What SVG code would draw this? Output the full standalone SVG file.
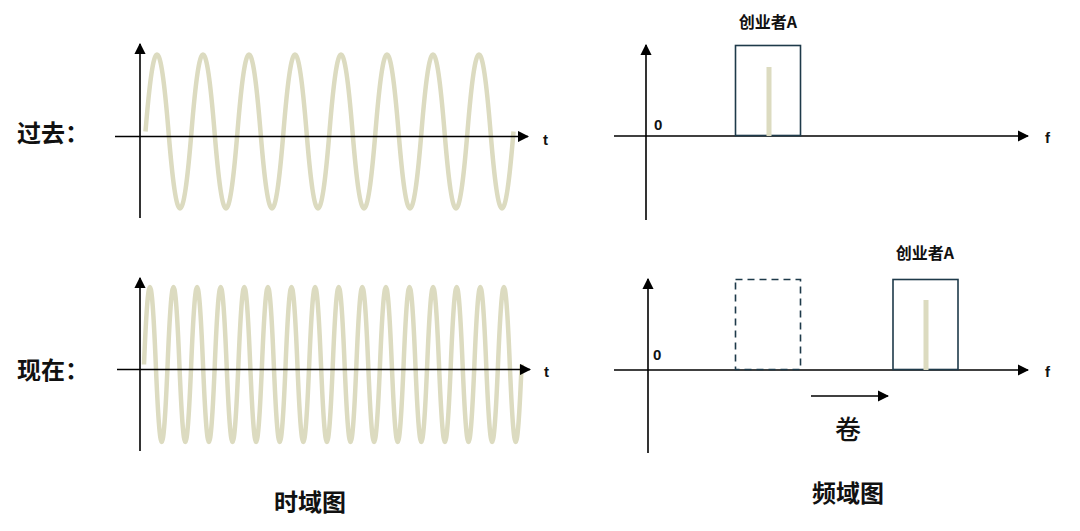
<svg xmlns="http://www.w3.org/2000/svg" width="1080" height="531" viewBox="0 0 1080 531">
<style>
.ax{stroke:#000;stroke-width:1.6;fill:none}
.w{stroke:#dcdbc0;stroke-width:4.5;fill:none}
.bx{stroke:#1e3a4a;stroke-width:1.6;fill:none}
.bar{fill:#dcdbc0}
text{font-family:"Noto Sans CJK SC","Liberation Sans",sans-serif;fill:#111}
.big{font-size:24px;font-weight:bold}
.lab{font-size:16px;font-weight:bold}
.ax-l{font-size:15px;font-family:"Liberation Sans",sans-serif;font-weight:bold}
</style>
<defs><marker id="ar" viewBox="0 0 10 10" refX="9" refY="5" markerWidth="7" markerHeight="7" orient="auto"><path d="M0,0 L10,5 L0,10 z" fill="#000"/></marker></defs>
<rect width="1080" height="531" fill="#fff"/>
<g id="time-past">
<path class="w" d="M145.5,131.5 c8.38,-102.7 14.62,-102.7 23,0 s14.62,102.7 23,0 s14.62,-102.7 23,0 s14.62,102.7 23,0 s14.62,-102.7 23,0 s14.62,102.7 23,0 s14.62,-102.7 23,0 s14.62,102.7 23,0 s14.62,-102.7 23,0 s14.62,102.7 23,0 s14.62,-102.7 23,0 s14.62,102.7 23,0 s14.62,-102.7 23,0 s14.62,102.7 23,0 s14.62,-102.7 23,0 s14.62,102.7 23,0"/>
<line class="ax" x1="115" y1="136.5" x2="528" y2="136.5" marker-end="url(#ar)"/>
<line class="ax" x1="140" y1="218" x2="140" y2="44" marker-end="url(#ar)"/>
<text class="ax-l" x="543" y="145">t</text>
</g>
<g id="time-now">
<path class="w" d="M144,364.5 c4.3,-103.3 7.5,-103.3 11.8,0 s7.5,103.3 11.8,0 s7.5,-103.3 11.8,0 s7.5,103.3 11.8,0 s7.5,-103.3 11.8,0 s7.5,103.3 11.8,0 s7.5,-103.3 11.8,0 s7.5,103.3 11.8,0 s7.5,-103.3 11.8,0 s7.5,103.3 11.8,0 s7.5,-103.3 11.8,0 s7.5,103.3 11.8,0 s7.5,-103.3 11.8,0 s7.5,103.3 11.8,0 s7.5,-103.3 11.8,0 s7.5,103.3 11.8,0 s7.5,-103.3 11.8,0 s7.5,103.3 11.8,0 s7.5,-103.3 11.8,0 s7.5,103.3 11.8,0 s7.5,-103.3 11.8,0 s7.5,103.3 11.8,0 s7.5,-103.3 11.8,0 s7.5,103.3 11.8,0 s7.5,-103.3 11.8,0 s7.5,103.3 11.8,0 s7.5,-103.3 11.8,0 s7.5,103.3 11.8,0 s7.5,-103.3 11.8,0 s7.5,103.3 11.8,0 s7.5,-103.3 11.8,0 s7.5,103.3 11.8,0"/>
<line class="ax" x1="117" y1="369.5" x2="530" y2="369.5" marker-end="url(#ar)"/>
<line class="ax" x1="140" y1="451" x2="140" y2="278" marker-end="url(#ar)"/>
<text class="ax-l" x="544" y="377">t</text>
</g>
<g id="freq-past">
<line class="ax" x1="614" y1="136" x2="1028" y2="136" marker-end="url(#ar)"/>
<line class="ax" x1="646" y1="220" x2="646" y2="45" marker-end="url(#ar)"/>
<rect class="bx" x="735.5" y="45.5" width="65" height="90"/>
<rect class="bar" x="766.5" y="67" width="5" height="69"/>
<text class="ax-l" x="654" y="130">0</text>
<text class="ax-l" x="1045" y="143">f</text>
<text class="lab" x="768" y="28" text-anchor="middle">创业者A</text>
</g>
<g id="freq-now">
<line class="ax" x1="614" y1="370" x2="1028" y2="370" marker-end="url(#ar)"/>
<line class="ax" x1="648" y1="453" x2="648" y2="279" marker-end="url(#ar)"/>
<rect class="bx" x="735.5" y="279.5" width="65" height="90" stroke-dasharray="7,5"/>
<rect class="bx" x="893" y="279.5" width="65" height="90"/>
<rect class="bar" x="923.5" y="300" width="5" height="70"/>
<text class="ax-l" x="653" y="360">0</text>
<text class="ax-l" x="1045" y="377">f</text>
<text class="lab" x="925" y="259" text-anchor="middle">创业者A</text>
<line class="ax" x1="811" y1="396" x2="888" y2="396" marker-end="url(#ar)"/>
<text x="848" y="439" font-size="26" font-weight="500" text-anchor="middle">卷</text>
</g>
<g id="labels">
<text class="big" x="17" y="142">过去：</text>
<text class="big" x="17" y="379">现在：</text>
<text class="big" x="310" y="511" text-anchor="middle">时域图</text>
<text class="big" x="848" y="502" text-anchor="middle">频域图</text>
</g>
</svg>
